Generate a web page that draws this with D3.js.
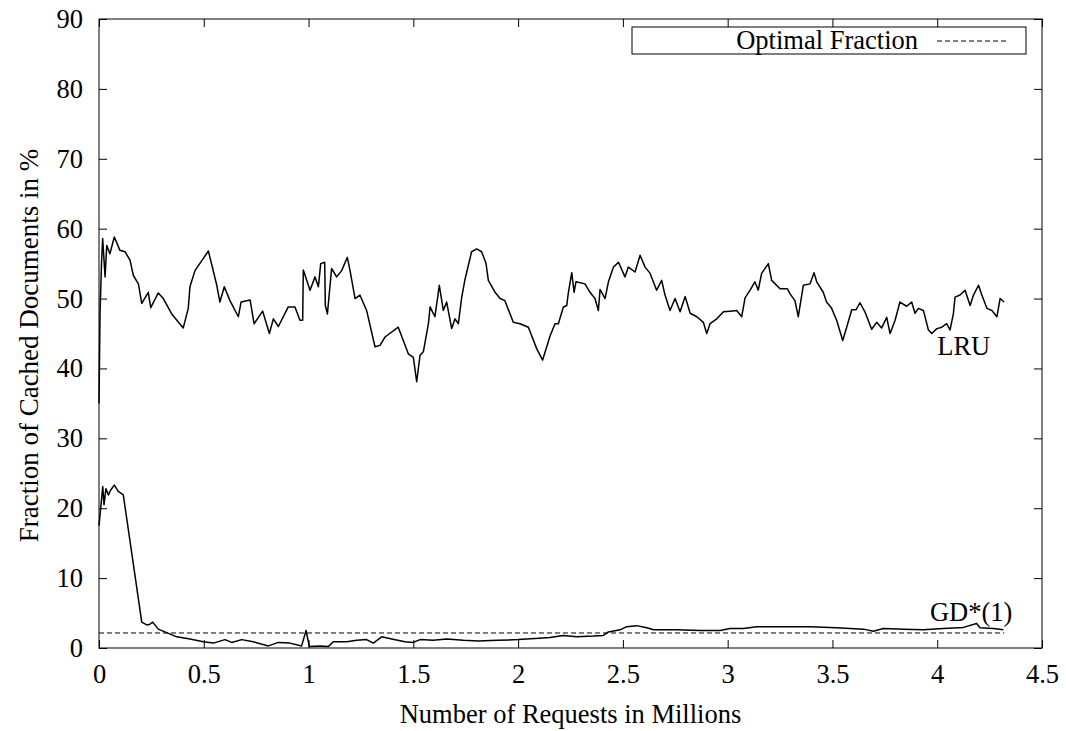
<!DOCTYPE html>
<html>
<head>
<meta charset="utf-8">
<script src="https://cdn.jsdelivr.net/npm/d3@7"></script>
<style>
  body { margin: 0; background: #fff; }
  svg text { font-family: "Liberation Serif", "Times New Roman", serif; fill: #000; }
</style>
</head>
<body>
<div id="chart"></div>
<script>
// values: [millions of requests, % cached]
const lruData = [
  [0, 35], [0.005, 48], [0.012, 55], [0.0175, 58.6], [0.029, 53.1], [0.037, 57.6], [0.052, 56.4],
  [0.073, 58.8], [0.100, 56.9], [0.124, 56.7], [0.148, 55.5], [0.164, 53.3], [0.188, 52.1],
  [0.204, 49.3], [0.235, 50.9], [0.247, 48.7], [0.283, 50.8], [0.307, 50.0], [0.347, 47.8],
  [0.402, 45.8], [0.426, 48.6], [0.434, 51.7], [0.458, 54.0], [0.522, 56.8], [0.562, 51.9],
  [0.577, 49.5], [0.598, 51.7], [0.625, 49.7], [0.665, 47.4], [0.678, 49.5], [0.721, 49.8],
  [0.740, 46.4], [0.781, 48.2], [0.813, 45.0], [0.832, 47.1], [0.856, 46.0], [0.903, 48.8],
  [0.935, 48.8], [0.959, 46.9], [0.972, 46.9], [0.975, 54.1], [1.007, 51.2], [1.031, 53.1],
  [1.047, 51.7], [1.058, 55.0], [1.077, 55.2], [1.080, 49.0], [1.090, 47.8], [1.110, 54.3],
  [1.134, 53.1], [1.158, 54.0], [1.185, 55.9], [1.198, 54.0], [1.222, 50.0], [1.245, 50.5],
  [1.277, 48.3], [1.317, 43.1], [1.341, 43.3], [1.365, 44.5], [1.428, 45.9], [1.476, 42.1],
  [1.500, 41.6], [1.516, 38.1], [1.532, 41.9], [1.548, 42.4], [1.572, 46.4], [1.580, 48.8],
  [1.603, 47.4], [1.624, 51.9], [1.643, 48.3], [1.659, 49.5], [1.683, 45.7], [1.699, 47.1],
  [1.715, 46.4], [1.731, 50.2], [1.747, 52.8], [1.778, 56.7], [1.802, 57.1], [1.826, 56.7],
  [1.847, 55.0], [1.858, 52.6], [1.890, 50.9], [1.914, 50.0], [1.937, 49.7], [1.977, 46.6],
  [2.009, 46.4], [2.049, 45.9], [2.089, 42.8], [2.117, 41.2], [2.152, 44.6], [2.176, 46.4],
  [2.192, 46.4], [2.216, 48.8], [2.232, 49.0], [2.240, 50.9], [2.256, 53.7], [2.267, 50.9],
  [2.276, 52.4], [2.319, 52.1], [2.343, 50.9], [2.367, 50.0], [2.383, 48.3], [2.391, 51.3],
  [2.415, 50.0], [2.431, 52.4], [2.455, 54.5], [2.479, 55.2], [2.510, 53.1], [2.526, 54.5],
  [2.558, 53.8], [2.582, 56.2], [2.606, 54.5], [2.630, 53.6], [2.661, 51.2], [2.685, 52.6],
  [2.701, 50.5], [2.725, 48.3], [2.749, 50.0], [2.773, 48.1], [2.797, 50.3], [2.821, 47.9],
  [2.853, 47.4], [2.884, 46.6], [2.900, 45.0], [2.916, 46.4], [2.948, 47.1], [2.980, 48.1],
  [3.011, 48.2], [3.043, 48.3], [3.067, 47.4], [3.083, 50.1], [3.107, 51.2], [3.130, 52.4],
  [3.146, 51.2], [3.162, 53.6], [3.194, 55.0], [3.210, 52.6], [3.250, 51.4], [3.285, 51.4],
  [3.297, 50.7], [3.321, 49.7], [3.337, 47.4], [3.361, 51.9], [3.393, 52.1], [3.412, 53.7],
  [3.425, 52.4], [3.456, 50.9], [3.472, 49.5], [3.496, 48.6], [3.520, 46.9], [3.549, 44.0],
  [3.568, 45.9], [3.592, 48.4], [3.613, 48.4], [3.631, 49.4], [3.655, 48.1], [3.687, 45.6],
  [3.711, 46.6], [3.735, 45.8], [3.759, 47.3], [3.775, 45.0], [3.799, 46.9], [3.822, 49.5],
  [3.854, 48.9], [3.878, 49.5], [3.894, 47.9], [3.910, 48.6], [3.934, 48.3], [3.958, 45.5],
  [3.974, 45.0], [3.998, 45.7], [4.022, 45.9], [4.045, 46.4], [4.061, 45.5], [4.077, 47.8],
  [4.085, 50.2], [4.109, 50.5], [4.133, 51.2], [4.157, 49.0], [4.173, 50.5], [4.197, 51.9],
  [4.213, 50.5], [4.237, 48.6], [4.261, 48.3], [4.285, 47.4], [4.300, 50.0], [4.319, 49.5]
];

const gdData = [
  [0, 17.5], [0.018, 23.1], [0.024, 20.5], [0.033, 22.8], [0.045, 21.9], [0.056, 22.6],
  [0.073, 23.3], [0.092, 22.4], [0.116, 21.9], [0.204, 3.7], [0.228, 3.3], [0.243, 3.4],
  [0.256, 3.7], [0.283, 2.7], [0.323, 2.2], [0.371, 1.6], [0.434, 1.3], [0.498, 0.9],
  [0.546, 0.7], [0.601, 1.2], [0.633, 0.8], [0.681, 1.2], [0.736, 0.9], [0.808, 0.3],
  [0.856, 0.8], [0.911, 0.7], [0.967, 0.3], [0.988, 2.5], [1.004, 0.2], [1.055, 0.3],
  [1.094, 0.2], [1.118, 0.9], [1.182, 0.9], [1.230, 1.1], [1.277, 1.2], [1.309, 0.7],
  [1.349, 1.6], [1.397, 1.3], [1.460, 0.9], [1.500, 0.8], [1.532, 1.2], [1.595, 1.1],
  [1.659, 1.3], [1.739, 1.1], [1.810, 1.0], [1.900, 1.1], [2.000, 1.2], [2.100, 1.4],
  [2.152, 1.5], [2.216, 1.8], [2.280, 1.6], [2.359, 1.7], [2.407, 1.8], [2.431, 2.3],
  [2.487, 2.6], [2.518, 3.05], [2.566, 3.2], [2.614, 2.9], [2.646, 2.6], [2.757, 2.6],
  [2.869, 2.5], [2.964, 2.5], [3.011, 2.8], [3.075, 2.8], [3.139, 3.05], [3.266, 3.05],
  [3.393, 3.05], [3.520, 2.9], [3.648, 2.7], [3.695, 2.4], [3.743, 2.8], [3.839, 2.7],
  [3.934, 2.6], [4.029, 2.8], [4.125, 2.95], [4.188, 3.5], [4.204, 2.9], [4.268, 2.8],
  [4.316, 2.6]
];

const optimalFraction = 2.15;
const optimalRange = [0, 4.32];

const xTicks = [0, 0.5, 1, 1.5, 2, 2.5, 3, 3.5, 4, 4.5];
const yTicks = [0, 10, 20, 30, 40, 50, 60, 70, 80, 90];

const W = 1066, H = 731;
const m = { left: 99, right: 24, top: 19, bottom: 83 };
const fs = 26.5;

const svg = d3.select("#chart").append("svg")
    .attr("width", W)
    .attr("height", H);

const x = d3.scaleLinear().domain([0, 4.5]).range([m.left, W - m.right]);
const y = d3.scaleLinear().domain([0, 90]).range([H - m.bottom, m.top]);

// axes, gnuplot style: ticks pointing inward, mirrored on top/right
const gx = svg.append("g")
    .attr("transform", `translate(0,${y(0)})`)
    .call(d3.axisBottom(x).tickValues(xTicks).tickFormat(d3.format("")).tickSizeInner(-8).tickSizeOuter(0).tickPadding(16));
const gy = svg.append("g")
    .attr("transform", `translate(${x(0)},0)`)
    .call(d3.axisLeft(y).tickValues(yTicks).tickSizeInner(-8).tickSizeOuter(0).tickPadding(16));
const gxt = svg.append("g")
    .attr("transform", `translate(0,${y(90)})`)
    .call(d3.axisTop(x).tickValues(xTicks).tickFormat("").tickSizeInner(-8).tickSizeOuter(0));
const gyr = svg.append("g")
    .attr("transform", `translate(${x(4.5)},0)`)
    .call(d3.axisRight(y).tickValues(yTicks).tickFormat("").tickSizeInner(-8).tickSizeOuter(0));

[gx, gy, gxt, gyr].forEach(g => {
    g.select(".domain").remove();
    g.selectAll("line").attr("stroke", "#000");
    g.selectAll("text").style("font-size", fs + "px").style("font-family", null);
});

// frame
svg.append("rect")
    .attr("x", x(0)).attr("y", y(90))
    .attr("width", x(4.5) - x(0)).attr("height", y(0) - y(90))
    .attr("fill", "none").attr("stroke", "#000").attr("stroke-width", 1);

const line = d3.line().x(d => x(d[0])).y(d => y(d[1]));

// optimal fraction (dashed)
svg.append("line")
    .attr("x1", x(optimalRange[0])).attr("x2", x(optimalRange[1]))
    .attr("y1", y(optimalFraction)).attr("y2", y(optimalFraction))
    .attr("stroke", "#000").attr("stroke-width", 1)
    .attr("stroke-dasharray", "5,3");

svg.append("path")
    .datum(lruData)
    .attr("d", line)
    .attr("fill", "none")
    .attr("stroke", "#000")
    .attr("stroke-width", 1.5)
    .attr("stroke-linejoin", "round");

svg.append("path")
    .datum(gdData)
    .attr("d", line)
    .attr("fill", "none")
    .attr("stroke", "#000")
    .attr("stroke-width", 1.5)
    .attr("stroke-linejoin", "round");

// curve labels
svg.append("text")
    .attr("x", x(4.0)).attr("y", y(41.9))
    .style("font-size", fs + "px")
    .text("LRU");
svg.append("text")
    .attr("x", x(3.965)).attr("y", y(3.9))
    .style("font-size", fs + "px")
    .text("GD*(1)");

// legend
const legend = svg.append("g");
legend.append("rect")
    .attr("x", 632).attr("y", 27)
    .attr("width", 394).attr("height", 27)
    .attr("fill", "#fff").attr("stroke", "#000").attr("stroke-width", 1);
legend.append("text")
    .attr("x", 918).attr("y", 49)
    .attr("text-anchor", "end")
    .style("font-size", fs + "px")
    .text("Optimal Fraction");
legend.append("line")
    .attr("x1", 937).attr("x2", 1009)
    .attr("y1", 41).attr("y2", 41)
    .attr("stroke", "#000").attr("stroke-width", 1)
    .attr("stroke-dasharray", "5,3");

// axis titles
svg.append("text")
    .attr("x", (x(0) + x(4.5)) / 2).attr("y", 723)
    .attr("text-anchor", "middle")
    .style("font-size", fs + "px")
    .text("Number of Requests in Millions");
svg.append("text")
    .attr("transform", `translate(38,${(y(0) + y(90)) / 2 + 12}) rotate(-90)`)
    .attr("text-anchor", "middle")
    .style("font-size", "27px")
    .text("Fraction of Cached Documents in %");
</script>
</body>
</html>
